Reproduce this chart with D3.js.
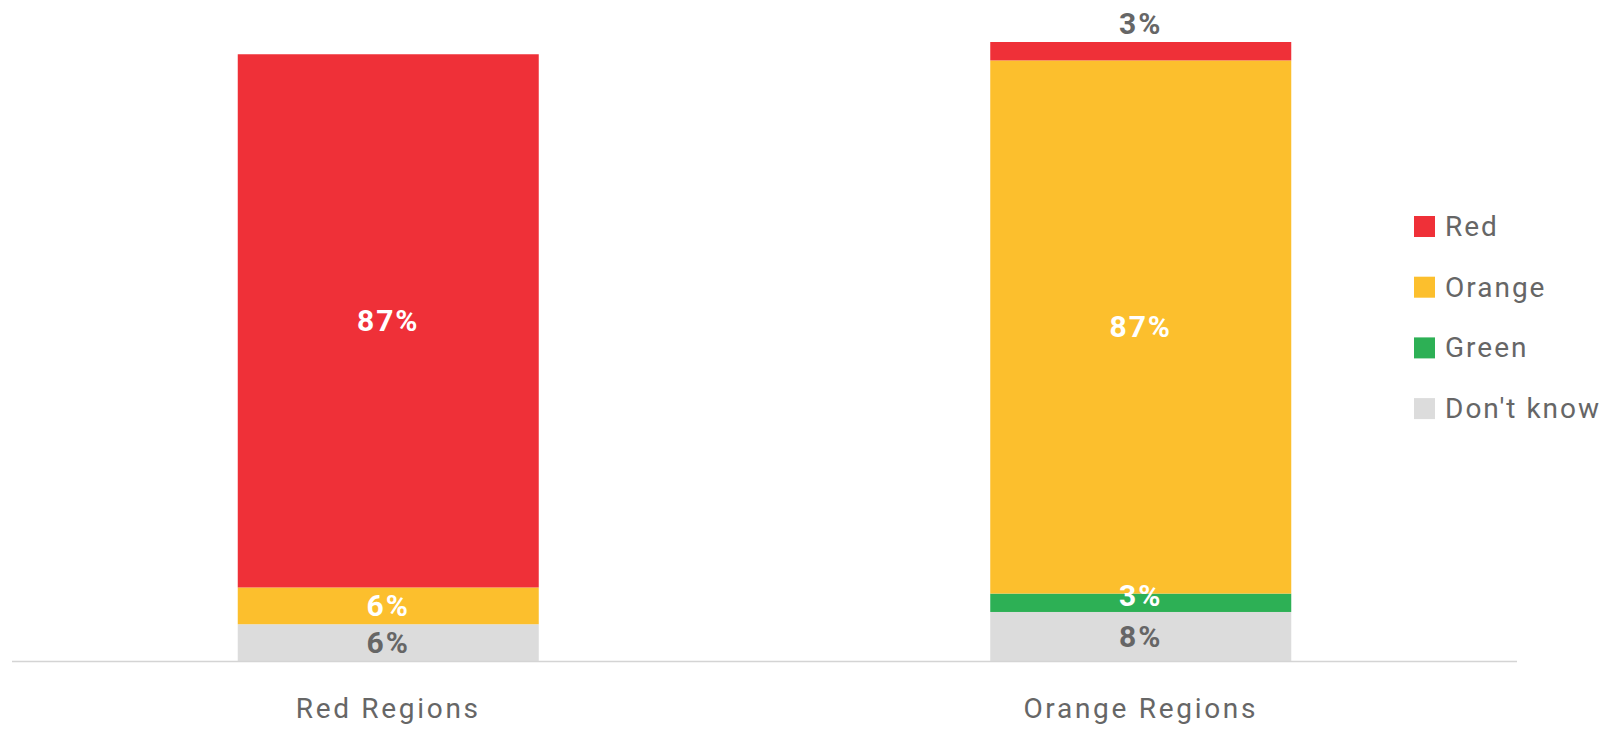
<!DOCTYPE html>
<html>
<head>
<meta charset="utf-8">
<script src="https://cdn.jsdelivr.net/npm/d3@7"></script>
<style>
  body { margin: 0; background: #fff; }
  svg { display: block; font-family: Roboto, sans-serif; }
</style>
</head>
<body>
<div id="chart"></div>
<script>
var categories = ['Red Regions', 'Orange Regions'];
var seriesNames = ['Red', 'Orange', 'Green', "Don't know"];
var redValues = [87, 3];
var orangeValues = [6, 87];
var greenValues = [0, 3];
var dontKnowValues = [6, 8];

var colors = ['#ef3038', '#fcbf2d', '#2db055', '#dcdcdc'];
var labelColors = ['#ffffff', '#ffffff', '#ffffff', '#666666'];
var textColor = '#666666';

var width = 1609;
var height = 731;
var baseline = 661;

window.onload = function() {
    var svg = d3.select('#chart').append('svg')
        .attr('width', width)
        .attr('height', height);
    render(svg);
    drawLegend(svg);
}

function render(svg) {
    var seriesValues = [redValues, orangeValues, greenValues, dontKnowValues];
    var rows = categories.map(function(c, i) {
        var row = { category: c };
        seriesNames.forEach(function(s, j) { row[s] = seriesValues[j][i]; });
        return row;
    });

    // stack bottom-up: don't know, green, orange, red
    var stackOrder = seriesNames.slice().reverse();
    var stacked = d3.stack().keys(stackOrder)(rows);

    var x = d3.scaleBand()
        .domain(categories)
        .range([12, 1517])
        .paddingInner(0.6)
        .paddingOuter(0.3);

    var y = d3.scaleLinear()
        .domain([0, 101])
        .range([baseline, 42]);

    stacked.forEach(function(layer) {
        var k = seriesNames.indexOf(layer.key);
        var g = svg.append('g');
        g.selectAll('rect')
            .data(layer)
            .enter().append('rect')
            .attr('x', function(d) { return x(d.data.category); })
            .attr('y', function(d) { return y(d[1]); })
            .attr('width', x.bandwidth())
            .attr('height', function(d) { return y(d[0]) - y(d[1]); })
            .attr('fill', colors[k]);
    });

    // segment labels
    stacked.forEach(function(layer, li) {
        var k = seriesNames.indexOf(layer.key);
        layer.forEach(function(d) {
            var v = d[1] - d[0];
            if (v <= 0) return;
            var h = y(d[0]) - y(d[1]);
            var isTop = li === stacked.length - 1;
            var cy, fill;
            if (isTop && h < 22) {
                // too small: put it above the bar
                cy = y(d[1]) - 19;
                fill = textColor;
            } else {
                cy = y(d[1]) + h / 2;
                if (h < 22) cy -= 7;
                fill = labelColors[k];
            }
            svg.append('text')
                .attr('x', x(d.data.category) + x.bandwidth() / 2)
                .attr('y', cy)
                .attr('dy', '0.35em')
                .attr('text-anchor', 'middle')
                .style('font-size', '30px')
                .style('font-weight', 'bold')
                .style('letter-spacing', '2px')
                .style('fill', fill)
                .text(v + '%');
        });
    });

    // baseline
    svg.append('line')
        .attr('x1', 12)
        .attr('x2', 1517)
        .attr('y1', baseline + 0.5)
        .attr('y2', baseline + 0.5)
        .attr('stroke', '#d4d4d4')
        .attr('stroke-width', 1.5);

    // category labels
    var xAxis = d3.axisBottom(x).tickSize(0).tickPadding(0);
    var axisG = svg.append('g')
        .attr('transform', 'translate(0,' + baseline + ')')
        .call(xAxis);
    axisG.select('.domain').remove();
    axisG.selectAll('text')
        .attr('y', 57)
        .attr('dy', 0)
        .style('font-family', 'Roboto, sans-serif')
        .style('font-size', '28px')
        .style('letter-spacing', '2.7px')
        .style('fill', textColor);
}

function drawLegend(svg) {
    var legend = svg.append('g');
    seriesNames.forEach(function(name, i) {
        var cy = 226 + i * 60.7;
        legend.append('rect')
            .attr('x', 1414)
            .attr('y', cy - 10)
            .attr('width', 21)
            .attr('height', 21)
            .attr('fill', colors[i]);
        legend.append('text')
            .attr('x', 1445)
            .attr('y', cy)
            .attr('dy', '0.35em')
            .style('font-size', '28px')
            .style('letter-spacing', '2px')
            .style('fill', textColor)
            .text(name);
    });
}
</script>
</body>
</html>
